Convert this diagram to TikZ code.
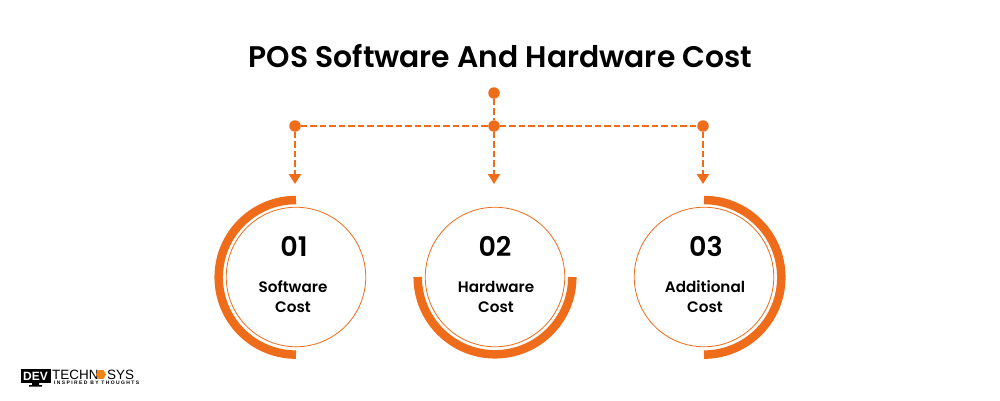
\documentclass[tikz,border=0pt]{standalone}
\usepackage{fontspec}
\setmainfont{Poppins}[BoldFont=* SemiBold]
\newfontfamily\logofont{Liberation Sans}
\usetikzlibrary{arrows.meta,shapes.geometric}
\definecolor{orng}{HTML}{EF6C1A}
\tikzset{
  x=1pt,y=-1pt,
  dotnode/.style={circle,fill=orng,inner sep=0pt,minimum size=11.5pt},
  dashline/.style={draw=orng,line width=2.2pt,dash pattern=on 6.5pt off 3pt},
  arrowline/.style={dashline,-{Triangle[length=10pt,width=12pt,fill=orng]}},
  ringnode/.style={circle,draw=orng,line width=0.8pt,inner sep=0pt,minimum size=139.5pt},
  band/.style={draw=orng,line width=8.5pt},
  numtext/.style={font=\fontsize{27}{27}\selectfont\bfseries,text=black,inner sep=0pt},
  labeltext/.style={font=\fontsize{15.2}{20}\selectfont\bfseries,text=black,align=center,inner sep=0pt},
}
\begin{document}
\begin{tikzpicture}
\useasboundingbox (0,0) rectangle (1000,400);
\fill[white] (0,0) rectangle (1000,400);
\node[inner sep=0pt,font=\fontsize{29.8}{30}\selectfont\bfseries] (title) at (500.5,56) {POS Software And Hardware Cost};
% connectors
\node[dotnode] (top) at (494,93) {};
\node[dotnode] (mid) at (494,126) {};
\node[dotnode] (left) at (295,126) {};
\node[dotnode] (right) at (703,126) {};
\coordinate (tl) at (295,184);
\coordinate (tm) at (494,184);
\coordinate (tr) at (703,184);
\path[dashline] (top) -- (mid);
\path[dashline] (left) -- (mid);
\path[dashline] (mid) -- (right);
\path[arrowline] (left) -- (tl);
\path[arrowline] (mid) -- (tm);
\path[arrowline] (right) -- (tr);
% rings
\node[ringnode] (r1) at (296,277) {};
\node[ringnode] (r2) at (495,277) {};
\node[ringnode] (r3) at (704,277) {};
\draw[band] (296,200) arc[start angle=-90,end angle=-270,radius=77.3];
\draw[band] (417.7,277) arc[start angle=180,end angle=0,radius=77.3];
\draw[band] (704,200) arc[start angle=-90,end angle=90,radius=77.3];
\node[numtext] (n1) at (294,246) {01};
\node[numtext] (n2) at (495,246) {02};
\node[numtext] (n3) at (706,246) {03};
\node[labeltext] (l1) at (293,297) {Software\\Cost};
\node[labeltext] (l2) at (496,297) {Hardware\\Cost};
\node[labeltext] (l3) at (705,297) {Additional\\Cost};
% logo
\fill[black] (21,368.5) rectangle (50.5,383);
\node[inner sep=0pt,text=white,font=\logofont\fontsize{12}{12}\selectfont\bfseries] (dev) at (35.5,376) {DEV};
\fill[black] (32,383) rectangle (39,385) (29,385) rectangle (42,386.5);
\node[inner sep=0pt,anchor=west,font=\logofont\fontsize{13.5}{12}\selectfont] (tech) at (52,374.5) {TECHN};
\node[regular polygon,regular polygon sides=6,fill=orng!85!yellow,inner sep=0pt,minimum size=10pt] (gear) at (101,374.5) {};
\node[inner sep=0pt,anchor=west,font=\logofont\fontsize{13.5}{12}\selectfont] (sys) at (107,374.5) {SYS};
\node[inner sep=0pt,anchor=west,font=\logofont\fontsize{5}{5}\selectfont\bfseries] (tag) at (54,382.5) {I N S P I R E D\ \ B Y\ \ T H O U G H T S};
\end{tikzpicture}
\end{document}
